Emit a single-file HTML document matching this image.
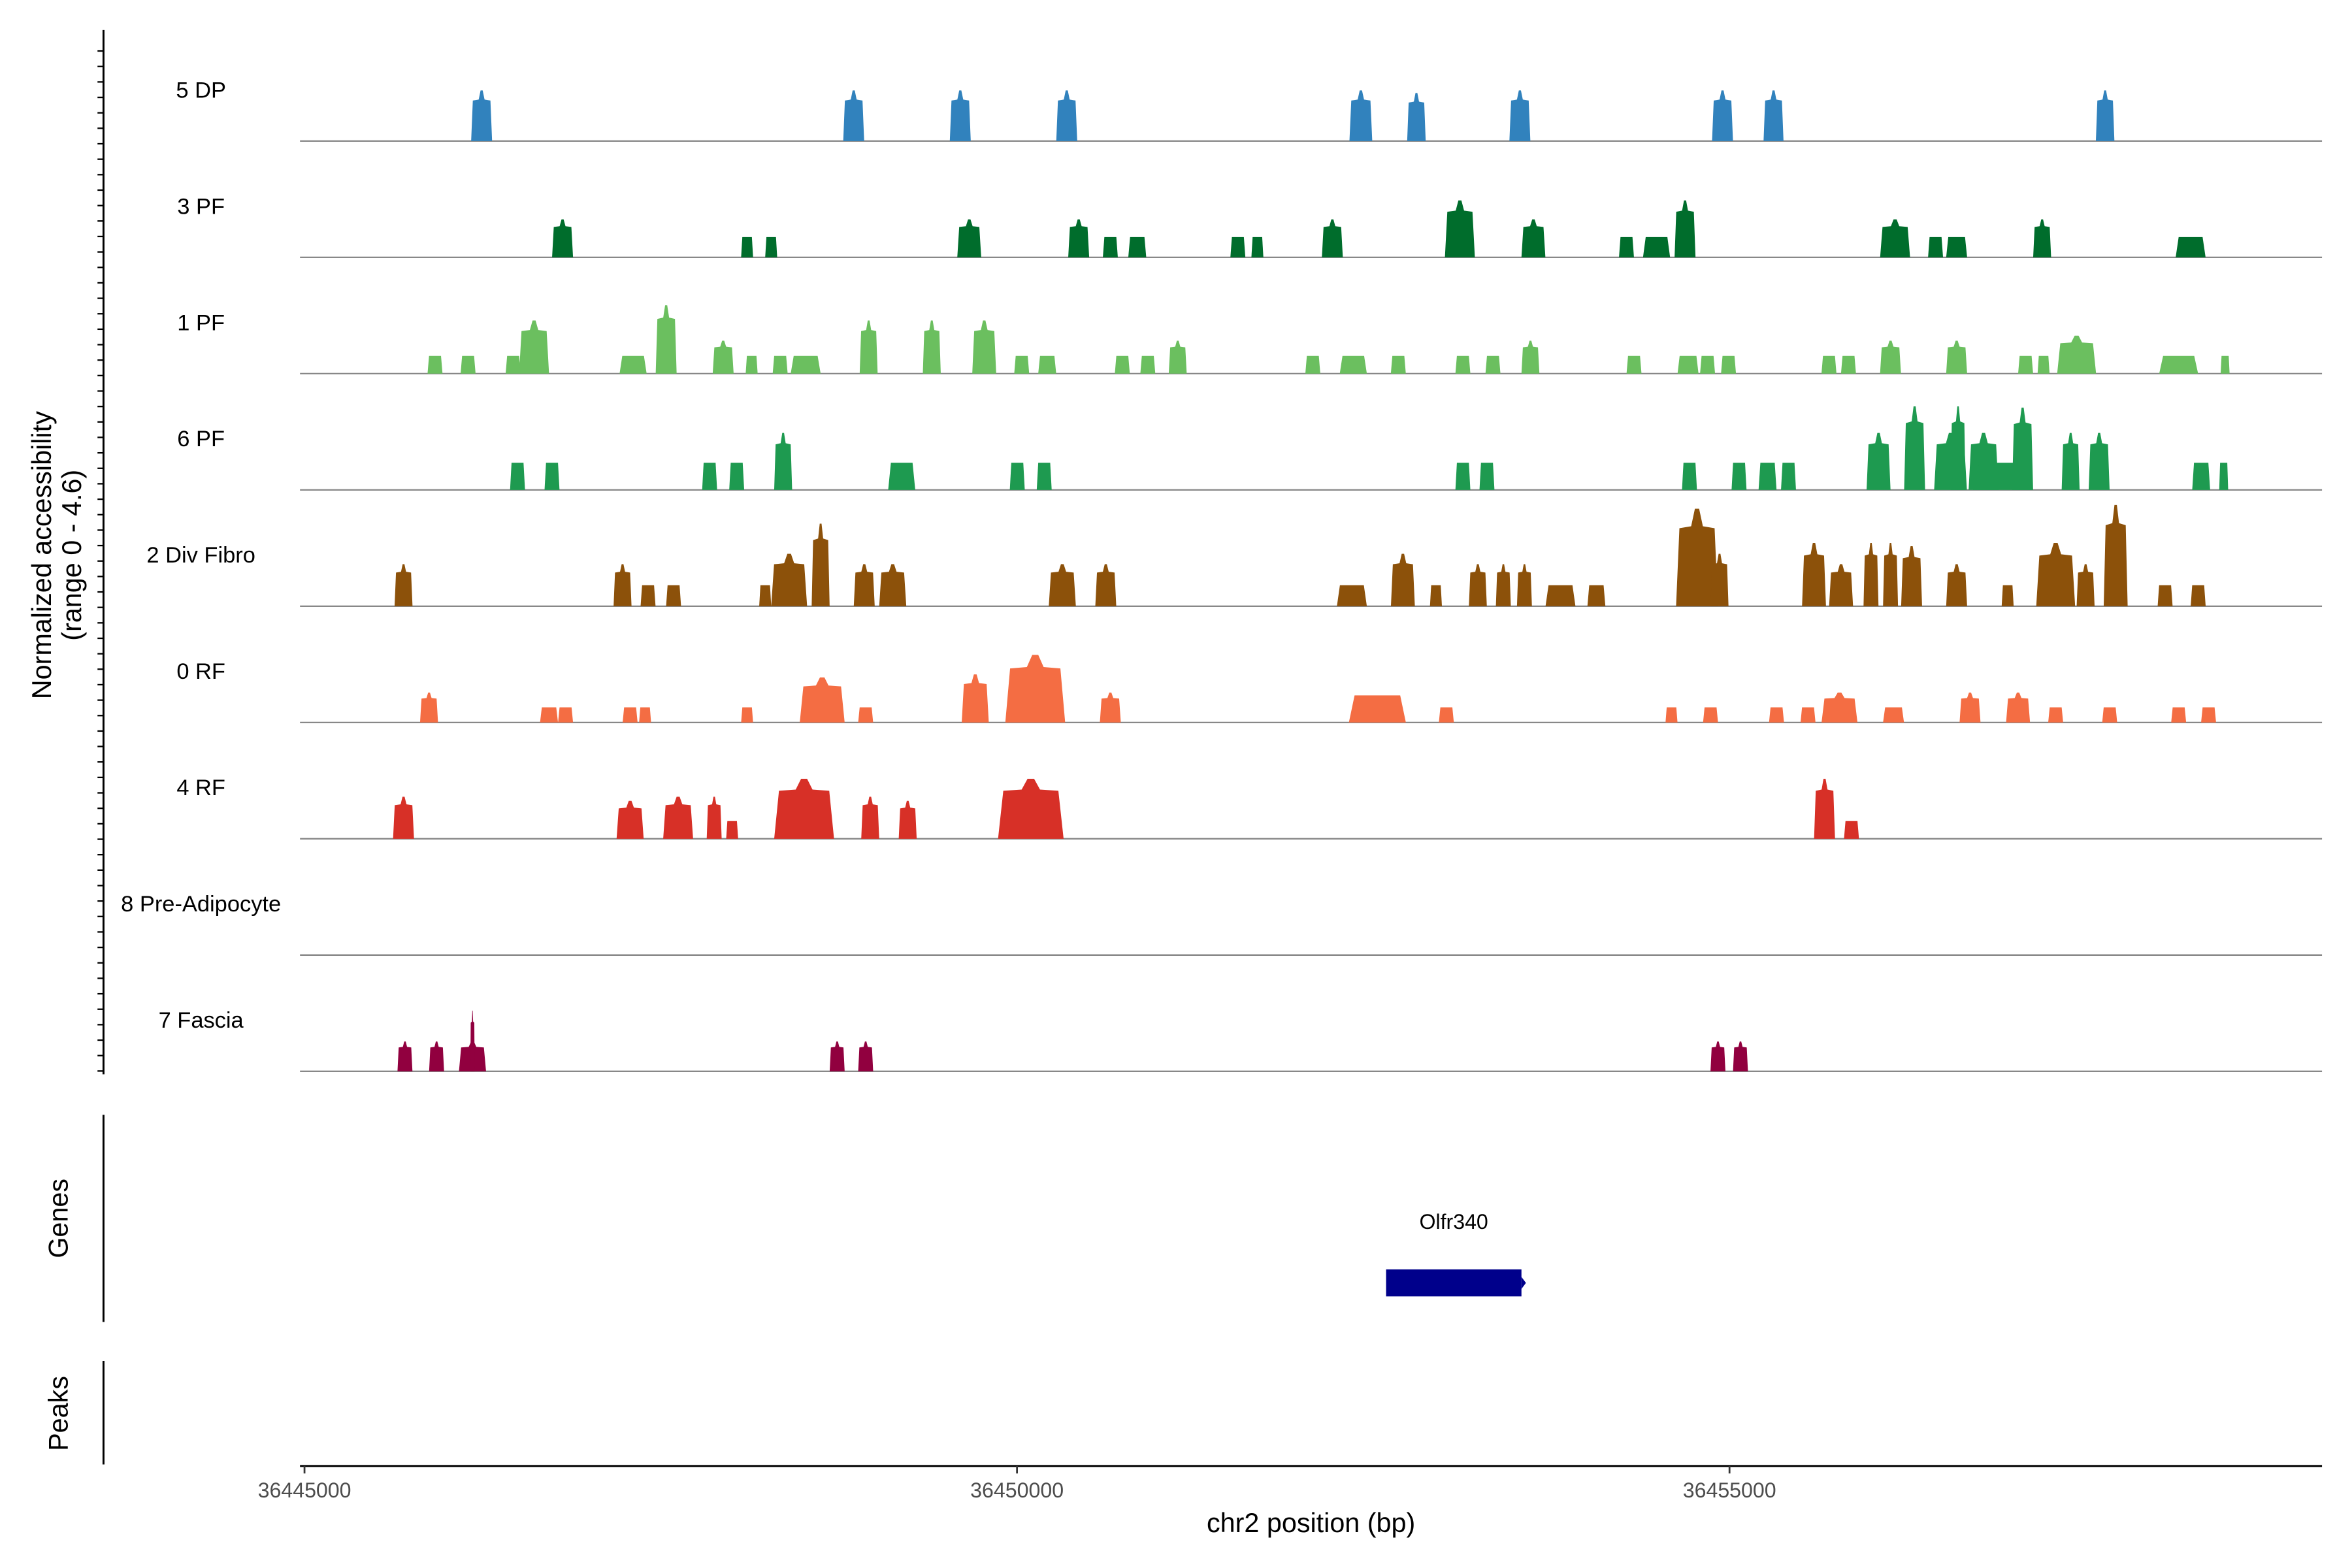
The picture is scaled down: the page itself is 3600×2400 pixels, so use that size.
<!DOCTYPE html>
<html><head><meta charset="utf-8"><style>
html,body{margin:0;padding:0;background:#fff}
svg{display:block;font-family:"Liberation Sans",Arial,sans-serif}
</style></head><body>
<svg id="chart" width="3600" height="2400" viewBox="0 0 1568 1045" preserveAspectRatio="none" xmlns="http://www.w3.org/2000/svg">
<rect width="1568" height="1045" fill="#fff"/>
<g id="tracks"></g>
<line x1="69" y1="20" x2="69" y2="716" stroke="#000" stroke-width="1.3"/>
<g id="yticks"></g>
<text transform="translate(34,370) rotate(-90)" text-anchor="middle" font-size="18">Normalized accessibility</text>
<text transform="translate(54,370) rotate(-90)" text-anchor="middle" font-size="18">(range 0 - 4.6)</text>
<line x1="69" y1="743" x2="69" y2="881" stroke="#000" stroke-width="1.3"/>
<text transform="translate(45,812) rotate(-90)" text-anchor="middle" font-size="18">Genes</text>
<line x1="69" y1="907" x2="69" y2="976" stroke="#000" stroke-width="1.3"/>
<text transform="translate(45,942) rotate(-90)" text-anchor="middle" font-size="18">Peaks</text>
<g id="gene"></g>
<line x1="200" y1="977" x2="1548" y2="977" stroke="#000" stroke-width="1.3"/>
<g id="xticks"></g>
<text x="874" y="1021" text-anchor="middle" font-size="18">chr2 position (bp)</text>
</svg>
<script>
const regionStart = 36445000;
const xTickValues = [36445000, 36450000, 36455000];
const trackNames = ["5 DP","3 PF","1 PF","6 PF","2 Div Fibro","0 RF","4 RF","8 Pre-Adipocyte","7 Fascia"];
const trackColors = ["#3182BD","#006D2C","#6BBF5F","#1E9A50","#8C510A","#F46D43","#D73027","#777777","#91003F"];
// peak centers (bp offset from regionStart), widths (bp), heights (normalized)
const c0=[1243,3854,4602,5349,7413,7803,8529,9951,10309,12636];
const w0=[147,147,147,147,160,130,147,147,140,130];
const h0=[2.0,2.0,2.0,2.0,2.0,1.9,2.0,2.0,2.0,2.0];
const c1=[1811,3106,3275,4665,5433,5655,5844,6550,6687,7213,8108,8624,9277,9488,9688,11162,11446,11594,12194,13236];
const w1=[147,84,84,168,147,105,126,105,84,147,210,168,105,190,147,210,105,147,126,210];
const h1=[1.5,0.8,0.8,1.5,1.5,0.8,0.8,0.8,0.8,1.5,2.25,1.5,0.8,0.8,2.25,1.5,0.8,0.8,1.5,0.8];
const c2=[916,1148,1464,1611,2306,2538,2938,3138,3338,3517,3959,4402,4770,5033,5212,5739,5918,6128,7076,7360,7676,8129,8340,8603,9330,9709,9846,9993,10698,10835,11130,11594,12078,12204,12436,13152,13478];
const w2=[105,105,105,210,190,147,147,84,105,210,126,126,168,105,126,105,105,126,105,190,105,105,105,126,105,147,105,105,105,105,147,147,105,84,273,273,63];
const h2=[0.7,0.7,0.7,2.1,0.7,2.7,1.3,0.7,0.7,0.7,2.1,2.1,2.1,0.7,0.7,0.7,0.7,1.3,0.7,0.7,0.7,0.7,0.7,1.3,0.7,0.7,0.7,0.7,0.7,0.7,1.3,1.3,0.7,0.7,1.5,0.7,0.7];
const c3=[1495,1737,2843,3033,3359,4191,5002,5191,8129,8298,9719,10067,10267,10414,11046,11299,11551,11604,11783,11920,12057,12394,12594,13310,13468];
const w3=[105,105,105,105,126,190,105,105,105,105,105,105,126,105,168,147,230,105,210,420,147,126,147,126,63];
const h3=[1.07,1.07,1.07,1.07,2.25,1.07,1.07,1.07,1.07,1.07,1.07,1.07,1.07,1.07,2.25,3.3,2.25,3.3,2.25,1.07,3.25,2.25,2.25,1.07,1.07];
const c4=[695,2232,2411,2590,3233,3401,3622,3928,4128,5318,5623,7350,7708,7940,8234,8413,8561,8814,9066,9772,9930,10593,10783,10993,11130,11278,11594,11952,12289,12499,12710,13057,13289];
const w4=[126,126,105,105,84,252,126,147,190,190,147,210,168,84,126,105,105,210,126,294,126,168,168,105,105,147,147,84,273,126,168,105,105];
const h4=[1.66,1.66,0.83,0.83,0.83,2.07,3.26,1.66,1.66,1.66,1.66,0.83,2.07,0.83,1.66,1.66,1.66,0.83,0.83,3.85,2.07,2.5,1.66,2.5,2.5,2.37,1.66,0.83,2.5,1.66,4.0,0.83,0.83];
const c5=[874,1716,1832,2285,2390,3106,3633,3938,4707,5128,5655,7529,8013,9593,9867,10330,10551,10772,11151,11688,12025,12289,12668,13152,13362];
const w5=[126,126,105,105,84,84,315,105,190,420,147,400,105,84,105,105,105,252,147,147,168,105,105,105,105];
const h5=[1.18,0.6,0.6,0.6,0.6,0.6,1.78,0.6,1.9,2.67,1.18,1.07,0.6,0.6,0.6,0.6,0.6,1.18,0.6,1.18,1.18,0.6,0.6,0.6,0.6];
const c6=[695,2285,2622,2875,3001,3506,3970,4233,5097,10667,10856];
const w6=[147,190,210,105,84,420,126,126,460,147,105];
const h6=[1.66,1.5,1.66,1.66,0.7,2.37,1.66,1.5,2.37,2.37,0.7];
const c7=[];
const w7=[];
const h7=[];
const c8=[705,927,1179,1179,3738,3938,9919,10077];
const w8=[105,105,190,30,105,105,105,105];
const h8=[1.18,1.18,1.18,2.4,1.18,1.18,1.18,1.18];
const centers=[c0,c1,c2,c3,c4,c5,c6,c7,c8];
const widths=[w0,w1,w2,w3,w4,w5,w6,w7,w8];
const heights=[h0,h1,h2,h3,h4,h5,h6,h7,h8];
const geneName="Olfr340", geneStart=36452590, geneEnd=36453540;

const NS="http://www.w3.org/2000/svg";
const pxPerBp=95/1000;
function xScale(bp){return 203+(bp-regionStart)*pxPerBp;}
function yScale(v){return v*(77.6/4.6);}
function mk(tag,attrs,parent){const e=document.createElementNS(NS,tag);for(const k in attrs)e.setAttribute(k,attrs[k]);parent.appendChild(e);return e;}
const tracks=document.getElementById('tracks');
trackNames.forEach((name,i)=>{
  const base=94+i*77.5;
  const g=mk('g',{},tracks);
  
  
  const lbl=mk('text',{x:134,y:base-29,'text-anchor':'middle','font-size':15},g);
  lbl.textContent=name;
  
  
  const bl=mk('line',{x1:200,x2:1548,y1:base,y2:base,stroke:'#888','stroke-width':1},g);
  
  
  centers[i].forEach((c,j)=>{
    const cx=xScale(regionStart+c), w=widths[i][j]*pxPerBp, hv=heights[i][j], h=yScale(hv);
    let pts;
    if(hv<=1.1){
      pts=[[cx-w/2,0],[cx-0.4*w,h],[cx+0.4*w,h],[cx+w/2,0]];
    } else {
      pts=[[cx-w/2,0],[cx-0.42*w,0.8*h],[cx-0.14*w,0.82*h],[cx-0.05*w,h],[cx+0.05*w,h],[cx+0.14*w,0.82*h],[cx+0.42*w,0.8*h],[cx+w/2,0]];
    }
    const p=mk('polygon',{points:pts.map(q=>q[0].toFixed(2)+','+(base-q[1]).toFixed(2)).join(' '),fill:trackColors[i]},g);
    
    
  });
});
const yt=document.getElementById('yticks');
for(let y=34;y<=716;y+=10.3){
  const t=mk('line',{x1:65,x2:69,y1:y,y2:y,stroke:'#000','stroke-width':1},yt);
  
  
}
const xt=document.getElementById('xticks');
xTickValues.forEach(v=>{
  const x=xScale(v);
  const t=mk('line',{x1:x,x2:x,y1:977,y2:982,stroke:'#333','stroke-width':1.2},xt);
  
  
  const l=mk('text',{x:x,y:998,'text-anchor':'middle','font-size':14,fill:'#4d4d4d'},xt);
  l.textContent=v;
  
  
});
const gg=document.getElementById('gene');
const gx0=xScale(geneStart), gx1=xScale(geneEnd);
const gr=mk('rect',{x:gx0,y:846,width:gx1-gx0,height:18,fill:'#00008B'},gg);


const ga=mk('polygon',{points:`${gx1},851 ${gx1+3},855 ${gx1},859`,fill:'#00008B'},gg);


const gl=mk('text',{x:(gx0+gx1)/2,y:819,'text-anchor':'middle','font-size':14},gg);
gl.textContent=geneName;


</script>
</body></html>
